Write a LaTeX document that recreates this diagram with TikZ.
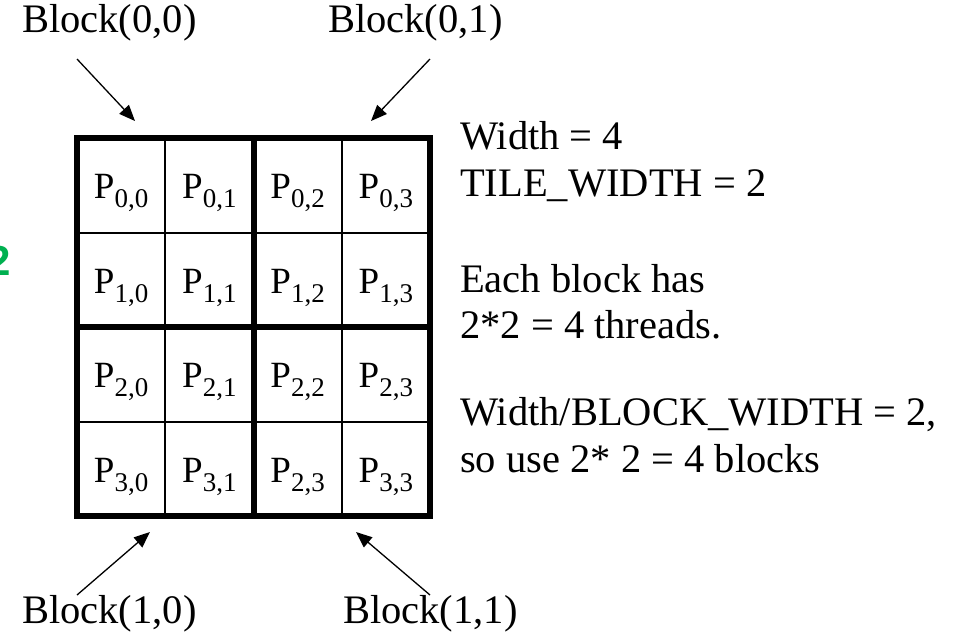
\documentclass[tikz,border=0pt]{standalone}
\usepackage{fontspec}
\setmainfont{Liberation Serif}
\newfontfamily\greensans{Liberation Sans}
\usetikzlibrary{arrows.meta}

\definecolor{keygreen}{RGB}{0,176,80}

\newcommand{\cellfont}{\fontsize{37}{37}\selectfont}
\newcommand{\pidx}[1]{{\cellfont P\raisebox{-9pt}{\fontsize{27}{27}\selectfont #1}}}

\tikzset{
  cellbox/.style={draw, line width=2pt, minimum width=88.25pt, minimum height=94.5pt, inner sep=0pt},
  blockbox/.style={draw, line width=6pt, minimum width=176.5pt, minimum height=189pt, inner sep=0pt},
  celltext/.style={anchor=base, inner sep=0pt},
  label/.style={anchor=base west, inner sep=0pt, font=\fontsize{40.5}{40.5}\selectfont},
  pointer/.style={line width=1.3pt, -{Triangle[length=16pt,width=13pt]}},
}

\begin{document}
\begin{tikzpicture}[x=1pt,y=-1pt]
\useasboundingbox (0,0) rectangle (967,633);

% thread cells
\foreach \r in {0,...,3}{
  \foreach \c in {0,...,3}{
    \node[cellbox] (c\r\c) at ({77+88.25*(\c+0.5)},{138+94.5*(\r+0.5)}) {};
  }
}

% cell labels (as printed)
\foreach \r/\c/\t in {0/0/{0,0},0/1/{0,1},0/2/{0,2},0/3/{0,3},
                      1/0/{1,0},1/1/{1,1},1/2/{1,2},1/3/{1,3},
                      2/0/{2,0},2/1/{2,1},2/2/{2,2},2/3/{2,3},
                      3/0/{3,0},3/1/{3,1},3/2/{2,3},3/3/{3,3}}{
  \node[celltext] (t\r\c) at ({77+88.25*(\c+0.5)},{138+94.5*(\r+0.5)+13.5}) {\pidx{\t}};
}

% thread blocks
\node[blockbox] (b00) at ({77+176.5*0.5},{138+189*0.5}) {};
\node[blockbox] (b01) at ({77+176.5*1.5},{138+189*0.5}) {};
\node[blockbox] (b10) at ({77+176.5*0.5},{138+189*1.5}) {};
\node[blockbox] (b11) at ({77+176.5*1.5},{138+189*1.5}) {};

% block names
\node[label] (l00) at (22,32) {Block(0,0)};
\node[label] (l01) at (328,32) {Block(0,1)};
\node[label] (l10) at (22,623) {Block(1,0)};
\node[label] (l11) at (343,623) {Block(1,1)};

% pointer ends
\coordinate (s00) at (77,59);   \coordinate (e00) at (135,121);
\coordinate (s01) at (430,59);  \coordinate (e01) at (371,121);
\coordinate (s10) at (77,595);  \coordinate (e10) at (150,532);
\coordinate (s11) at (430,595); \coordinate (e11) at (356,532);
\draw[pointer] (s00) -- (e00);
\draw[pointer] (s01) -- (e01);
\draw[pointer] (s10) -- (e10);
\draw[pointer] (s11) -- (e11);

% notes
\node[label] (n1) at (460,149) {Width = 4};
\node[label] (n2) at (460,196) {TILE\_WIDTH = 2};
\node[label] (n3) at (460,292) {Each block has};
\node[label] (n4) at (460,338) {2*2 = 4 threads.};
\node[label] (n5) at (460,425) {Width/BLOCK\_WIDTH = 2,};
\node[label] (n6) at (460,472) {so use 2* 2 = 4 blocks};

% green figure at the left edge
\node[anchor=base east, inner sep=0pt, text=keygreen,
      font=\greensans\bfseries\fontsize{42}{42}\selectfont] (g2) at (11,275) {2};
\end{tikzpicture}
\end{document}
